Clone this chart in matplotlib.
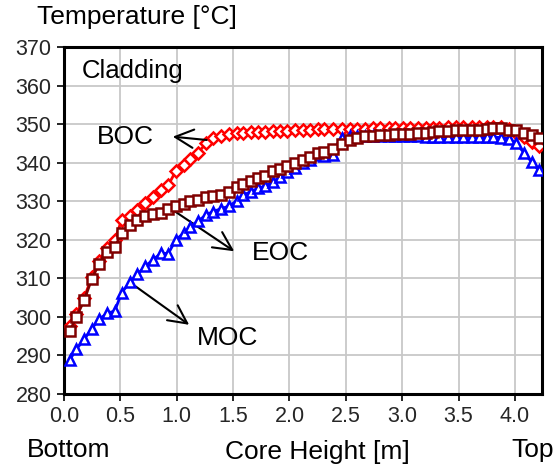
import matplotlib
matplotlib.use('Agg')
import matplotlib.pyplot as plt
import matplotlib.ticker as ticker

plt.rcParams['font.family'] = ['Liberation Sans', 'DejaVu Sans']

# core height [m] of the axial nodes
height = [0.05, 0.11, 0.18, 0.245, 0.31, 0.38, 0.45, 0.51, 0.585, 0.65,
          0.72, 0.79, 0.86, 0.925, 0.99, 1.06, 1.12, 1.19, 1.26, 1.32,
          1.39, 1.46, 1.53, 1.59, 1.66, 1.72, 1.78, 1.85, 1.92, 1.98,
          2.05, 2.12, 2.18, 2.25, 2.31, 2.39, 2.47, 2.54, 2.60, 2.67,
          2.74, 2.80, 2.88, 2.94, 3.01, 3.07, 3.14, 3.21, 3.27, 3.33,
          3.41, 3.48, 3.54, 3.62, 3.68, 3.75, 3.81, 3.88, 3.95, 4.01,
          4.08, 4.15, 4.21]

# cladding temperature [C]
boc = [297.7, 300.8, 305.0, 310.3, 314.4, 317.8, 319.8, 325.1, 326.2, 327.8,
       329.6, 331.2, 333.0, 334.2, 337.7, 339.4, 341.0, 342.6, 345.0, 346.3,
       346.9, 347.4, 347.6, 347.8, 347.9, 347.9, 348.0, 348.1, 348.3, 348.3,
       348.4, 348.5, 348.5, 348.6, 348.7, 348.7, 348.7, 348.8, 348.8, 348.8,
       348.9, 348.9, 348.9, 349.0, 349.0, 349.0, 349.0, 349.1, 349.1, 349.1,
       349.2, 349.2, 349.2, 349.2, 349.3, 349.3, 349.3, 349.2, 348.6, 347.6,
       346.7, 345.4, 344.4]

moc = [288.8, 291.6, 294.2, 296.9, 299.3, 300.9, 301.5, 306.2, 309.0, 311.0,
       313.1, 314.8, 316.5, 316.4, 319.9, 321.7, 323.4, 324.9, 326.4, 327.3,
       328.0, 328.7, 330.0, 331.6, 332.5, 333.3, 333.9, 335.0, 336.3, 337.6,
       338.6, 339.8, 340.8, 342.0, 341.8, 342.0, 346.4, 347.0, 347.0, 346.9,
       346.9, 346.9, 346.8, 346.8, 346.8, 346.8, 346.8, 346.7, 346.7, 346.7,
       346.7, 346.6, 346.6, 346.6, 346.6, 346.6, 346.6, 346.5, 346.2, 345.0,
       342.6, 340.1, 338.0]

eoc = [296.2, 300.0, 304.4, 309.8, 313.7, 316.9, 318.0, 321.7, 323.7, 325.0,
       326.1, 326.6, 326.8, 328.0, 328.8, 329.3, 330.0, 330.4, 331.1, 331.3,
       331.6, 332.5, 333.6, 334.5, 335.3, 335.9, 336.4, 337.7, 338.3, 339.0,
       339.8, 340.7, 341.4, 342.4, 342.8, 343.6, 344.8, 345.9, 346.3, 346.8,
       346.9, 347.1, 347.2, 347.4, 347.4, 347.5, 347.6, 347.8, 347.9, 348.1,
       348.3, 348.5, 348.5, 348.5, 348.5, 348.7, 349.0, 349.0, 348.5, 348.5,
       347.8, 347.2, 346.3]

xticks = [0.0, 0.5, 1.0, 1.5, 2.0, 2.5, 3.0, 3.5, 4.0]
yticks = [280, 290, 300, 310, 320, 330, 340, 350, 360, 370]

fig = plt.figure(figsize=(5.57, 4.70), dpi=100)
ax = fig.add_axes([0.115, 0.162, 0.858, 0.738])

ax.plot(height, boc, color='#ff0000', lw=2, marker='D', ms=6.3,
        mfc='white', mec='#ff0000', mew=1.8, zorder=3)
ax.plot(height, moc, color='#0000ff', lw=2, marker='^', ms=7.5,
        mfc='white', mec='#0000ff', mew=1.8, zorder=4)
ax.plot(height, eoc, color='#800000', lw=2, marker='s', ms=6.5,
        mfc='white', mec='#800000', mew=1.8, zorder=5)

ax.set_xlim(0, 4.24)
ax.set_ylim(280, 370)
ax.xaxis.set_major_locator(ticker.FixedLocator(xticks))
ax.yaxis.set_major_locator(ticker.FixedLocator(yticks))
ax.xaxis.set_major_formatter(ticker.FormatStrFormatter('%.1f'))
ax.grid(True, color='#c8c8c8', lw=1.3)
ax.set_axisbelow(True)
for s in ax.spines.values():
    s.set_linewidth(2.2)
    s.set_color('black')
ax.tick_params(direction='out', length=5, width=1.2, labelsize=15.5,
               labelcolor='#262626', pad=4)

# labels and arrows
ax.text(0.16, 362, 'Cladding', fontsize=18.5, va='baseline', ha='left')
arw = dict(arrowstyle='->,head_length=0.6,head_width=0.3', color='black',
           lw=1.5, mutation_scale=22)
ax.annotate('', xy=(0.94, 346.8), xytext=(1.29, 345.8), arrowprops=arw)
ax.text(0.29, 346.6, 'BOC', fontsize=19, va='center', ha='left')
ax.annotate('', xy=(1.53, 316.6), xytext=(0.94, 328.2), arrowprops=arw)
ax.text(1.667, 316.6, 'EOC', fontsize=19, va='center', ha='left')
ax.annotate('', xy=(1.13, 297.5), xytext=(0.615, 308.3), arrowprops=arw)
ax.text(1.177, 294.6, 'MOC', fontsize=19, va='center', ha='left')

fig.text(0.066, 0.964, 'Temperature [\u00b0C]', fontsize=19, va='center', ha='left')
fig.text(0.048, 0.042, 'Bottom', fontsize=19, va='center', ha='left')
fig.text(0.569, 0.038, 'Core Height [m]', fontsize=19, va='center', ha='center')
fig.text(0.994, 0.042, 'Top', fontsize=19, va='center', ha='right')

plt.savefig('out.png', dpi=100)
